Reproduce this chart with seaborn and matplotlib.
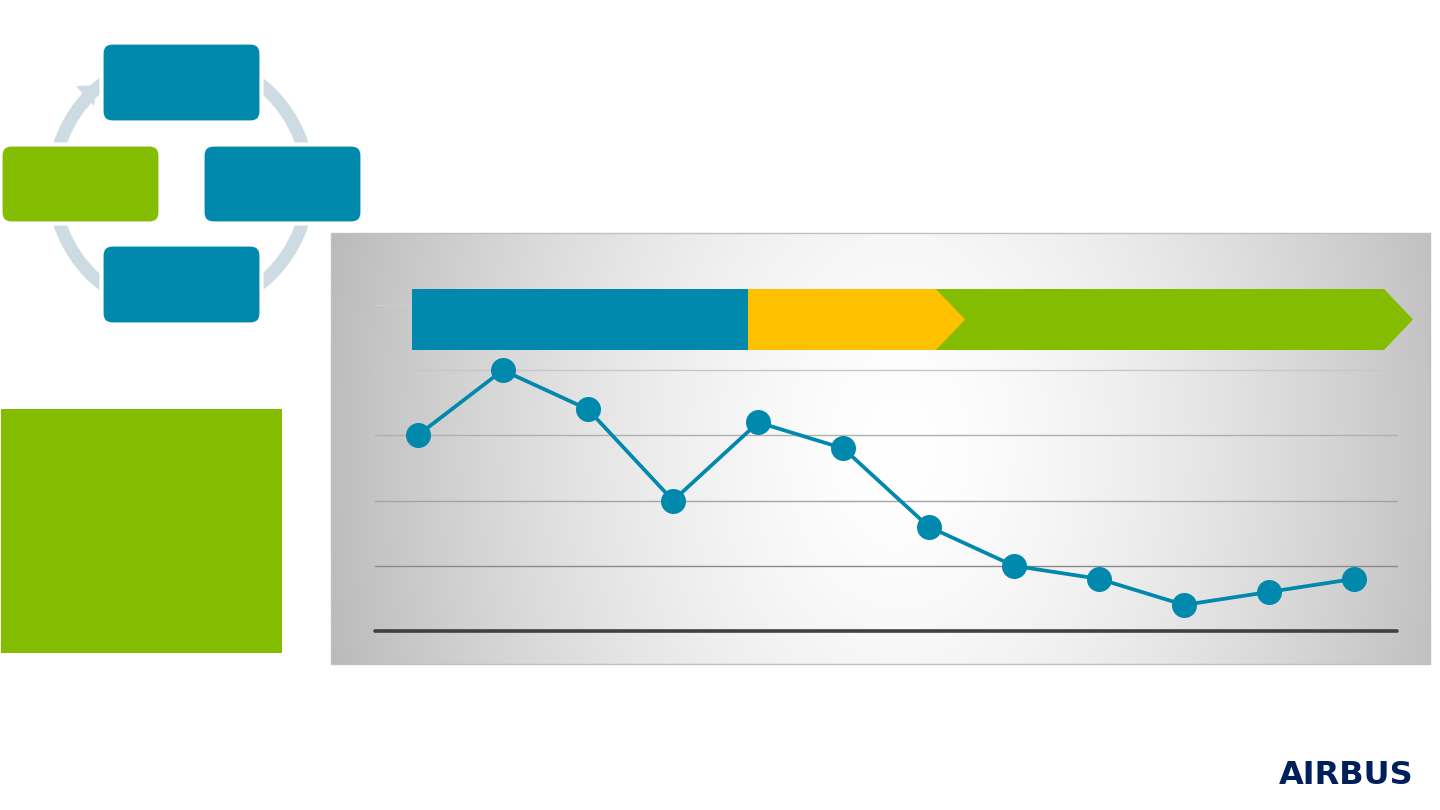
import numpy as np
import pandas as pd
import matplotlib
matplotlib.use("Agg")
import matplotlib.pyplot as plt
import seaborn as sns
from matplotlib.patches import FancyBboxPatch, Rectangle, Polygon, Wedge

# ---- data ----
periods = ["P1", "P2", "P3", "P4", "P5", "P6", "P7", "P8", "P9", "P10", "P11", "P12"]
values = [3.0, 4.0, 3.4, 2.0, 3.2, 2.8, 1.6, 1.0, 0.8, 0.4, 0.6, 0.8]
y_ticks = [0, 1, 2, 3, 4, 5]
logo_text = "AIRBUS"

BLUE = "#0088AD"
GREEN = "#84BD00"
YELLOW = "#FFC000"
RING = "#CDDBE3"
NAVY = "#00205B"

sns.set_theme(style="white")
W, H = 1440, 810
fig = plt.figure(figsize=(W / 100, H / 100), dpi=100)
fig.patch.set_facecolor("white")

# ---- background layout axes (pixel coordinates) ----
bg = fig.add_axes([0, 0, 1, 1], zorder=0)
bg.set_xlim(0, W)
bg.set_ylim(H, 0)
bg.axis("off")

# panel gradient
px0, px1, py0, py1 = 331, 1430, 233, 664
xs = np.linspace(px0, px1, 400)
ys = np.linspace(py0, py1, 160)
XX, YY = np.meshgrid(xs, ys)
d = np.sqrt(((XX - 900) / 560) ** 2 + ((YY - 448) / 800) ** 2)
v = 1 - 0.25 * np.clip(d, 0, 1.1) ** 1.5
img = np.dstack([v, v, v])
bg.imshow(img, extent=[px0, px1, py1, py0], aspect="auto", zorder=1, interpolation="bilinear")
bg.add_patch(Rectangle((px0, py0), px1 - px0, py1 - py0, fill=False, ec="#c0c0c0", lw=1, zorder=2))

# cycle ring
cx, cy = 181, 184
bg.add_patch(Wedge((cx, cy), 134, 0, 360, width=13, fc=RING, ec="none", zorder=2))
bg.add_patch(Polygon([(97, 85), (76, 86), (94, 106)], closed=True, fc=RING, ec="none", zorder=2))

def rbox(x0, y0, x1, y1, color):
    bg.add_patch(FancyBboxPatch((x0 - 1.5, y0 - 1.5), x1 - x0 + 3, y1 - y0 + 3,
                                boxstyle="round,pad=0,rounding_size=11",
                                fc=color, ec="white", lw=3, zorder=3))

rbox(103, 44, 260, 121, BLUE)
rbox(2, 146, 159, 222, GREEN)
rbox(204, 146, 361, 222, BLUE)
rbox(103, 246, 260, 323, BLUE)

# green block
bg.add_patch(Rectangle((1, 409), 281, 244, fc=GREEN, ec="none", zorder=3))

# logo
bg.text(1346, 775, logo_text, ha="center", va="center", color=NAVY,
        fontsize=23, fontweight="bold", family=["DejaVu Sans"], zorder=3)

# ---- chart axes ----
ax = fig.add_axes([375 / W, 1 - 631 / H, 1022 / W, (631 - 305) / H], zorder=1)
ax.patch.set_alpha(0)
df = pd.DataFrame({"idx": np.arange(len(periods)), "period": periods, "value": values})
sns.lineplot(data=df, x="idx", y="value", ax=ax, color=BLUE, linewidth=2.7,
             marker="o", markersize=18, markeredgewidth=0, zorder=4)
ax.set_xlim(-0.5, len(periods) - 0.5)
ax.set_ylim(0, 5)
ax.set_yticks(y_ticks)
ax.set_xticks(df["idx"])
ax.set_xticklabels([])
ax.set_yticklabels([])
ax.tick_params(length=0)
ax.set_xlabel("")
ax.set_ylabel("")
for s in ax.spines.values():
    s.set_visible(False)
ax.grid(axis="y", lw=1)
grid_cols = ["#404040", "#8a8a8a", "#a4a4a4", "#b0b0b0", "#c8c8c8", "#cccccc"]
for gl, c in zip(ax.yaxis.get_gridlines(), grid_cols):
    gl.set_color(c)
    gl.set_clip_on(False)
ax.yaxis.get_gridlines()[0].set_linewidth(2.6)
ax.set_axisbelow(True)

# ---- banner overlay (pixel coordinates) ----
fg = fig.add_axes([0, 0, 1, 1], zorder=2)
fg.set_xlim(0, W)
fg.set_ylim(H, 0)
fg.axis("off")
fg.patch.set_alpha(0)
fg.add_patch(Polygon([(936, 289), (1384, 289), (1413, 319.5), (1384, 350), (936, 350)],
                     closed=True, fc=GREEN, ec="none"))
fg.add_patch(Polygon([(748, 289), (936, 289), (965, 319.5), (936, 350), (748, 350)],
                     closed=True, fc=YELLOW, ec="none"))
fg.add_patch(Rectangle((412, 289), 336, 61, fc=BLUE, ec="none"))

fig.savefig("out.png", dpi=100)
